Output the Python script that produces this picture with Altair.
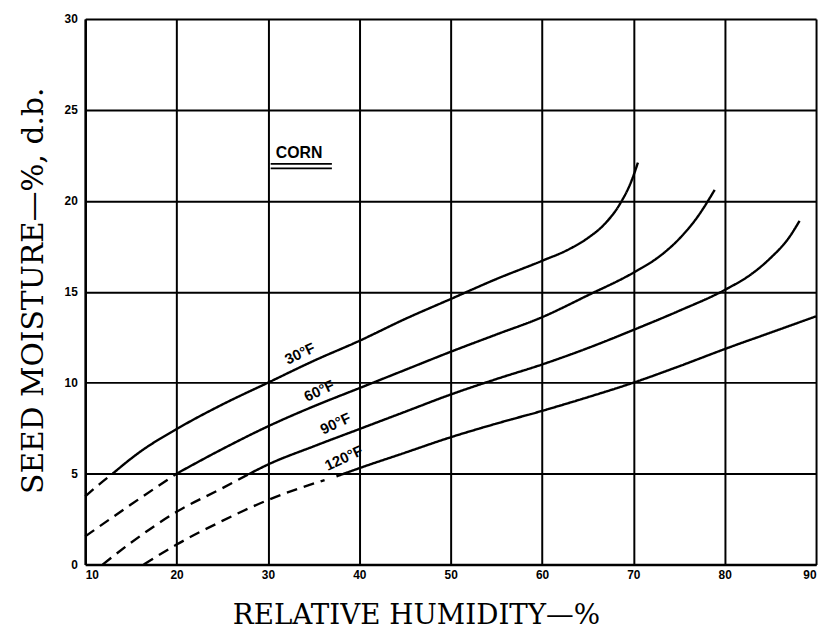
import altair as alt
import pandas as pd

# ---- data ----
x_ticks = [10, 20, 30, 40, 50, 60, 70, 80, 90]
y_ticks = [0, 5, 10, 15, 20, 25, 30]

# 30 °F
rh_30_dash = [10, 11.5, 13]
mc_30_dash = [3.75, 4.4, 5.0]
rh_30 = [13, 16, 20, 25, 30, 35, 40, 45, 50, 55, 60, 63, 65, 67, 68.5, 69.8, 70.5]
mc_30 = [5.0, 6.2, 7.45, 8.8, 10.0, 11.2, 12.3, 13.5, 14.6, 15.7, 16.7, 17.35, 17.95, 18.8, 19.8, 21.1, 22.1]

# 60 °F
rh_60_dash = [10, 15, 20]
mc_60_dash = [1.55, 3.3, 5.0]
rh_60 = [20, 25, 30, 35, 40, 45, 50, 55, 60, 65, 70, 73, 75, 77, 78.9]
mc_60 = [5.0, 6.35, 7.6, 8.7, 9.7, 10.7, 11.7, 12.65, 13.6, 14.8, 16.05, 17.0, 17.9, 19.1, 20.6]

# 90 °F
rh_90_dash = [11.9, 15, 20, 25, 28]
mc_90_dash = [0.0, 1.2, 2.9, 4.2, 5.0]
rh_90 = [28, 30, 35, 40, 45, 50, 55, 60, 65, 70, 75, 80, 83, 85, 87, 88.2]
mc_90 = [5.0, 5.5, 6.5, 7.45, 8.4, 9.35, 10.2, 11.0, 11.9, 12.9, 13.95, 15.1, 16.0, 16.85, 17.95, 18.9]

# 120 °F
rh_120_dash = [16.4, 20, 25, 30, 36.2]
mc_120_dash = [0.0, 1.1, 2.4, 3.55, 4.65]
rh_120 = [37.5, 40, 45, 50, 55, 60, 65, 70, 75, 80, 85, 90]
mc_120 = [4.85, 5.3, 6.15, 7.0, 7.75, 8.45, 9.2, 10.0, 10.9, 11.85, 12.75, 13.65]

# curve labels
label_text = ["30°F", "60°F", "90°F", "120°F"]
label_rh = [33.5, 35.6, 37.4, 38.3]
label_mc = [11.6, 9.55, 7.75, 5.85]

# panel annotation
corn_text = ["CORN"]
corn_rh = [33.4]
corn_mc = [22.65]
corn_rule_rh = [30.3, 37.0]
corn_rule_mc = [22.03, 21.79]

# ---- build tables ----
rows = []
def add(series, seg, rh, mc):
    for i, (a, b) in enumerate(zip(rh, mc)):
        rows.append({"series": series, "seg": seg, "key": series + "-" + seg,
                     "order": i, "rh": a, "mc": b})

add("30", "dashed", rh_30_dash, mc_30_dash)
add("30", "solid", rh_30, mc_30)
add("60", "dashed", rh_60_dash, mc_60_dash)
add("60", "solid", rh_60, mc_60)
add("90", "dashed", rh_90_dash, mc_90_dash)
add("90", "solid", rh_90, mc_90)
add("120", "dashed", rh_120_dash, mc_120_dash)
add("120", "solid", rh_120, mc_120)
df = pd.DataFrame(rows)

labels_df = pd.DataFrame({"t": label_text, "rh": label_rh, "mc": label_mc})
corn_df = pd.DataFrame({"t": corn_text, "rh": corn_rh, "mc": corn_mc})
rule_df = pd.DataFrame({"rh": [corn_rule_rh[0]] * 2, "rh2": [corn_rule_rh[1]] * 2,
                        "mc": corn_rule_mc})

xscale = alt.Scale(domain=[10, 90], nice=False, zero=False)
yscale = alt.Scale(domain=[0, 30], nice=False, zero=True)

x_axis = alt.Axis(values=x_ticks, grid=True, ticks=False, labelPadding=5,
                  gridColor="black", gridWidth=2, gridOpacity=1,
                  domain=True, domainColor="black", domainWidth=2.5,
                  labelFont="Liberation Sans", labelFontWeight="bold", labelFontSize=12,
                  labelColor="black",
                  titleFont="DejaVu Serif", titleFontSize=28, titleFontWeight="normal",
                  titleColor="black", titleX=334, titleY=60, titleAnchor="start",
                  titleAlign="center", titleBaseline="alphabetic")
y_axis = alt.Axis(values=y_ticks, grid=True, ticks=False, labelPadding=8,
                  gridColor="black", gridWidth=2, gridOpacity=1,
                  domain=True, domainColor="black", domainWidth=2.5,
                  labelFont="Liberation Sans", labelFontWeight="bold", labelFontSize=12,
                  labelColor="black",
                  titleFont="DejaVu Serif", titleFontSize=30, titleFontWeight="normal",
                  titleColor="black", titleAngle=270, titleX=-43, titleY=274,
                  titleAlign="center", titleBaseline="alphabetic")

lines = alt.Chart(df).mark_line(color="black", strokeWidth=2.4, interpolate="monotone").encode(
    x=alt.X("rh:Q", scale=xscale, axis=x_axis, title="RELATIVE HUMIDITY—%"),
    y=alt.Y("mc:Q", scale=yscale, axis=y_axis, title="SEED MOISTURE—%, d.b."),
    detail="key:N",
    order="order:Q",
    strokeDash=alt.StrokeDash("seg:N", scale=alt.Scale(domain=["solid", "dashed"],
                                                       range=[[1, 0], [11, 7]]), legend=None),
)

curve_labels = alt.Chart(labels_df).mark_text(
    font="Liberation Sans", fontWeight="bold", fontSize=15, angle=335, color="black"
).encode(x=alt.X("rh:Q", scale=xscale), y=alt.Y("mc:Q", scale=yscale), text="t:N")

corn = alt.Chart(corn_df).mark_text(
    font="Liberation Sans", fontWeight="bold", fontSize=16, color="black"
).encode(x=alt.X("rh:Q", scale=xscale), y=alt.Y("mc:Q", scale=yscale), text="t:N")

corn_rules = alt.Chart(rule_df).mark_rule(color="black", strokeWidth=1.8).encode(
    x=alt.X("rh:Q", scale=xscale), x2="rh2:Q", y=alt.Y("mc:Q", scale=yscale))

chart = alt.layer(lines, curve_labels, corn, corn_rules).properties(
    width=738, height=551,
    autosize=alt.AutoSizeParams(type="none"),
    padding={"left": 78, "top": 8, "right": 5, "bottom": 63},
).configure_view(
    stroke="black", strokeWidth=2.5,
).configure(background="white")

chart.save("out.html", embed_options={"renderer": "svg", "actions": False})
